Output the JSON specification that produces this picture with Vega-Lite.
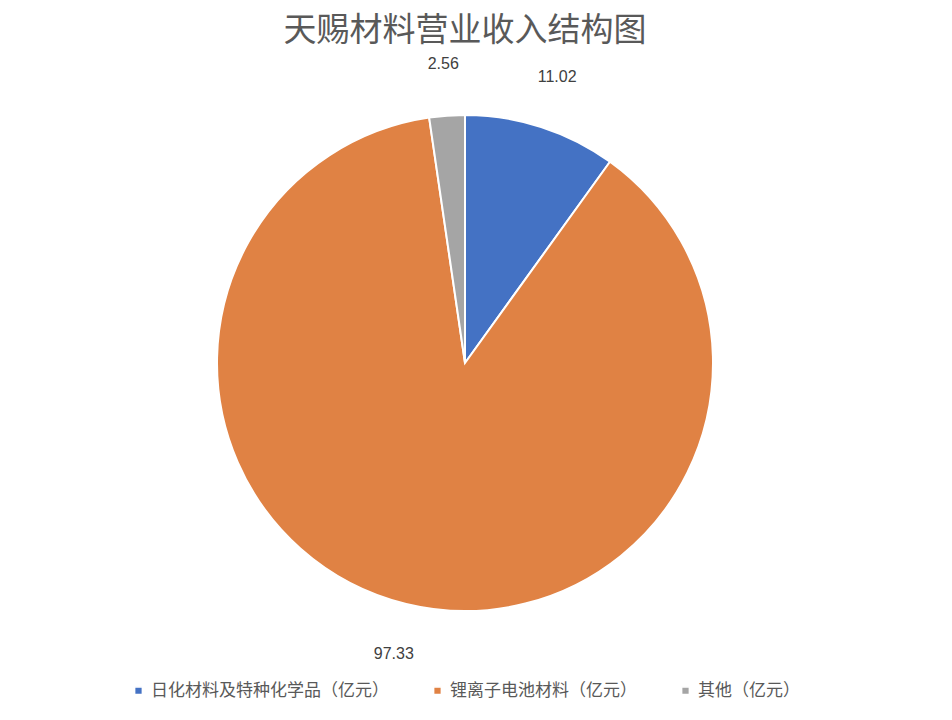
{
  "$schema": "https://vega.github.io/schema/vega-lite/v6.json",
  "width": 930,
  "height": 618,
  "padding": {"top": 15, "bottom": 14, "left": 0, "right": 22},
  "background": "white",
  "title": {
    "text": "天赐材料营业收入结构图",
    "font": "Noto Sans CJK SC",
    "fontSize": 33,
    "fontWeight": "normal",
    "color": "#595959",
    "anchor": "middle",
    "frame": "group",
    "offset": 6
  },
  "data": {
    "values": [
      {"category": "日化材料及特种化学品（亿元）", "value": 11.02, "order": 1},
      {"category": "锂离子电池材料（亿元）", "value": 97.33, "order": 2},
      {"category": "其他（亿元）", "value": 2.56, "order": 3}
    ]
  },
  "encoding": {
    "theta": {"field": "value", "type": "quantitative", "stack": true},
    "order": {"field": "order", "type": "quantitative"},
    "color": {
      "field": "category",
      "type": "nominal",
      "sort": ["日化材料及特种化学品（亿元）", "锂离子电池材料（亿元）", "其他（亿元）"],
      "scale": {
        "domain": ["日化材料及特种化学品（亿元）", "锂离子电池材料（亿元）", "其他（亿元）"],
        "range": ["#4472C4", "#E08244", "#A5A5A5"]
      },
      "legend": {
        "orient": "bottom",
        "direction": "horizontal",
        "title": null,
        "symbolType": "square",
        "symbolSize": 60,
        "labelFont": "Noto Sans CJK SC",
        "labelFontSize": 17,
        "labelColor": "#595959",
        "labelLimit": 0,
        "columnPadding": 40,
        "offset": 10
      }
    }
  },
  "layer": [
    {
      "mark": {"type": "arc", "outerRadius": 248, "stroke": "white", "strokeWidth": 2}
    },
    {
      "mark": {"type": "text", "radius": 300, "font": "Liberation Sans", "fontSize": 16, "fill": "#404040"},
      "encoding": {
        "text": {"field": "value", "type": "quantitative", "format": ".2f"},
        "color": {"value": "#404040"}
      }
    }
  ],
  "config": {
    "view": {"stroke": null},
    "legend": {"layout": {"bottom": {"anchor": "middle"}}}
  }
}
